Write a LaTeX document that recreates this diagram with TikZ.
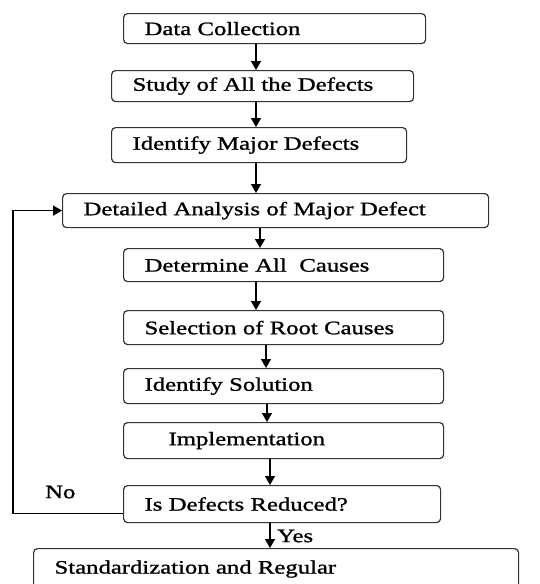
\documentclass[tikz,border=0pt]{standalone}
\usepackage{fontspec}
\setmainfont{Liberation Serif}[FakeStretch=1.3,FakeBold=1.2]
\usetikzlibrary{arrows.meta}

\begin{document}
\begin{tikzpicture}[x=1pt,y=-1pt,
  stepbox/.style={draw=black!80,line width=1.2pt,rounded corners=4pt,anchor=north west,
    inner xsep=21pt,inner ysep=0pt,align=left,font=\fontsize{19}{22}\selectfont},
  arr/.style={line width=1.4pt,-{Triangle[length=9pt,width=10pt]}},
  lbl/.style={anchor=west,inner sep=0pt,font=\fontsize{19}{22}\selectfont}]
\clip (0,0) rectangle (539,584);

% Boxes
\node[stepbox,text width=260pt,minimum height=30pt] (dc) at (123,13) {Data Collection};
\node[stepbox,text width=260pt,minimum height=31pt] (sa) at (111,70) {Study of All the Defects};
\node[stepbox,text width=253pt,minimum height=35pt] (im) at (111,127) {Identify Major Defects};
\node[stepbox,text width=384pt,minimum height=34pt] (da) at (62,193) {Detailed Analysis of Major Defect};
\node[stepbox,text width=278pt,minimum height=33pt] (dt) at (123,248) {Determine All\ \ Causes};
\node[stepbox,text width=278pt,minimum height=34pt] (sr) at (123,310) {Selection of Root Causes};
\node[stepbox,text width=278pt,minimum height=35pt] (is) at (123,368) {Identify Solution};
\node[stepbox,text width=254pt,minimum height=36pt,inner xsep=33pt] (ip) at (123,422) {\hspace*{12pt}Implementation};
\node[stepbox,text width=275pt,minimum height=37pt] (ir) at (123,485) {Is Defects Reduced?};
\node[stepbox,text width=443pt,text height=25pt,text depth=30pt] (sd) at (33,548) {Standardization and Regular};

% Arrows
\draw[arr] (dc.south -| 256,0) -- (sa.north -| 256,0);
\draw[arr] (sa.south -| 256,0) -- (im.north -| 256,0);
\draw[arr] (im.south -| 256,0) -- (da.north -| 256,0);
\draw[arr] (da.south -| 260,0) -- (dt.north -| 260,0);
\draw[arr] (dt.south -| 256,0) -- (sr.north -| 256,0);
\draw[arr] (sr.south -| 266,0) -- (is.north -| 266,0);
\draw[arr] (is.south -| 267,0) -- (ip.north -| 267,0);
\draw[arr] (ip.south -| 270,0) -- (ir.north -| 270,0);
\draw[arr] (ir.south -| 270,0) -- (sd.north -| 270,0);

% loop back
\draw[arr] ([yshift=-9.5pt]ir.west) -- ++(-110,0) |- (da.west);

% Text Node
\node[lbl] (no) at (45,492) {No};
\node[lbl] (yes) at (277,536) {Yes};
\end{tikzpicture}
\end{document}
